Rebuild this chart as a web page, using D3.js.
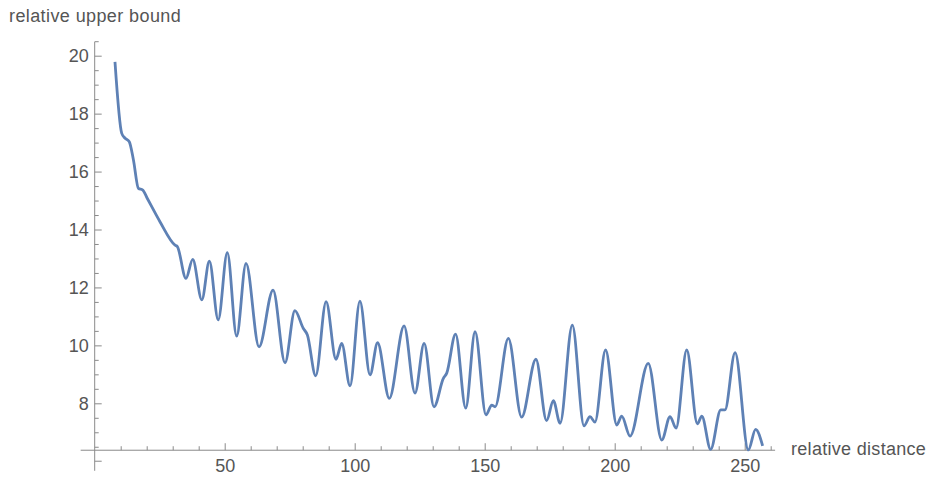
<!DOCTYPE html>
<html>
<head>
<meta charset="utf-8">
<script src="https://cdn.jsdelivr.net/npm/d3@7"></script>
<style>
  body { margin: 0; background: #fff; }
  text { font-family: "Liberation Sans", Arial, sans-serif; }
</style>
</head>
<body>
<script>
// values
const distance = [7.8, 10.4, 11.7, 13.3, 14.9, 16.8, 18.5, 20.2, 25.1, 30.9, 31.8,
  35.1, 37.7, 41.2, 44.1, 47.5, 51.0, 54.6, 58.2, 63.2, 68.6,
  73.2, 77.0, 80.2, 81.8, 85.0, 89.0, 92.8, 95.0, 98.2, 102.0,
  105.9, 108.8, 113.3, 119.0, 123.2, 126.7, 130.5, 134.1, 135.4, 138.8,
  142.7, 146.3, 150.5, 152.7, 154.0, 159.1, 164.2, 169.7, 173.8, 176.4,
  179.0, 183.7, 188.2, 190.5, 192.4, 196.5, 200.8, 202.7, 205.9, 212.9,
  218.1, 221.3, 223.6, 227.7, 231.8, 233.5, 236.9, 240.8, 242.4, 246.3,
  251.4, 254.2, 256.9];
const upperBound = [19.79, 17.32, 17.15, 17.03, 16.40, 15.42, 15.36, 15.08, 14.27, 13.46, 13.41,
  12.31, 12.97, 11.57, 12.91, 10.88, 13.20, 10.32, 12.83, 9.95, 11.91,
  9.40, 11.20, 10.59, 10.36, 8.95, 11.51, 9.52, 10.07, 8.60, 11.53,
  8.98, 10.09, 8.17, 10.67, 8.35, 10.07, 7.88, 8.86, 9.04, 10.39,
  7.83, 10.47, 7.60, 7.94, 7.88, 10.24, 7.52, 9.52, 7.40, 8.09,
  7.31, 10.70, 7.22, 7.54, 7.35, 9.84, 7.25, 7.56, 6.87, 9.38,
  6.73, 7.54, 7.14, 9.84, 7.29, 7.56, 6.41, 7.77, 7.77, 9.75,
  6.39, 7.10, 6.53];

const xMajor = [50, 100, 150, 200, 250];
const yMajor = [8, 10, 12, 14, 16, 18, 20];

const width = 937, height = 490;
const axisGray = "#8a8a8a", labelGray = "#555";

const x = d3.scaleLinear().domain([0, 260]).range([94.7, 770.7]);
const y = d3.scaleLinear().domain([8, 20]).range([403.3, 55.7]);
const yOrigin = 6.38;

const svg = d3.select("body").append("svg")
  .attr("width", width).attr("height", height);

// minor ticks
const xMinor = d3.range(10, 261, 10).filter(d => d % 50 != 0);
const yMinor = d3.range(6.5, 20.51, 0.5).filter(d => d % 2 != 0);

svg.append("g")
  .attr("transform", `translate(0,${y(yOrigin)})`)
  .call(d3.axisBottom(x).tickValues(xMinor).tickSizeInner(-4).tickSizeOuter(0).tickFormat(""))
  .call(g => g.select(".domain").remove())
  .call(g => g.selectAll("line").attr("stroke", axisGray));

svg.append("g")
  .attr("transform", `translate(${x(0)},0)`)
  .call(d3.axisLeft(y).tickValues(yMinor).tickSizeInner(-4).tickSizeOuter(0).tickFormat(""))
  .call(g => g.select(".domain").remove())
  .call(g => g.selectAll("line").attr("stroke", axisGray));

// major ticks with labels
svg.append("g")
  .attr("transform", `translate(0,${y(yOrigin)})`)
  .call(d3.axisBottom(x).tickValues(xMajor).tickSizeInner(-7).tickSizeOuter(0).tickPadding(9))
  .call(g => g.select(".domain").remove())
  .call(g => g.selectAll("line").attr("stroke", axisGray))
  .call(g => g.selectAll("text").attr("fill", labelGray).style("font-size", "18px"));

svg.append("g")
  .attr("transform", `translate(${x(0)},0)`)
  .call(d3.axisLeft(y).tickValues(yMajor).tickSizeInner(-7).tickSizeOuter(0).tickPadding(6))
  .call(g => g.select(".domain").remove())
  .call(g => g.selectAll("line").attr("stroke", axisGray))
  .call(g => g.selectAll("text").attr("fill", labelGray).style("font-size", "18px"));

// tick at 6 below the axis crossing, no label
svg.append("line")
  .attr("x1", x(0)).attr("x2", x(0) + 7)
  .attr("y1", y(6)).attr("y2", y(6))
  .attr("stroke", axisGray);

// axis lines
svg.append("line")
  .attr("x1", x(-5.4)).attr("x2", x(261.7))
  .attr("y1", y(yOrigin)).attr("y2", y(yOrigin))
  .attr("stroke", axisGray);
svg.append("line")
  .attr("x1", x(0)).attr("x2", x(0))
  .attr("y1", y(5.67)).attr("y2", y(20.48))
  .attr("stroke", axisGray);

// axis labels
svg.append("text")
  .attr("x", 9).attr("y", 22)
  .attr("fill", labelGray).style("font-size", "18px")
  .style("letter-spacing", "0.4px")
  .text("relative upper bound");
svg.append("text")
  .attr("x", 791).attr("y", 455)
  .attr("fill", labelGray).style("font-size", "18px")
  .style("letter-spacing", "0.3px")
  .text("relative distance");

// curve
const points = distance.map((d, i) => [d, upperBound[i]]);
const line = d3.line()
  .x(d => x(d[0]))
  .y(d => y(d[1]))
  .curve(d3.curveMonotoneX);

svg.append("path")
  .datum(points)
  .attr("fill", "none")
  .attr("stroke", "#5e81b5")
  .attr("stroke-width", 2.8)
  .attr("stroke-linejoin", "round")
  .attr("d", line);
</script>
</body>
</html>
